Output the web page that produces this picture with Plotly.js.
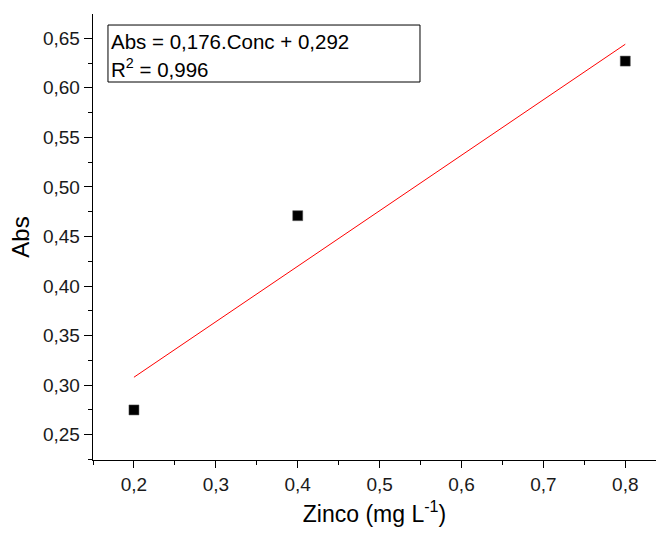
<!DOCTYPE html>
<html>
<head>
<meta charset="utf-8">
<script src="https://cdn.plot.ly/plotly-3.0.1.min.js"></script>
<style>html,body{margin:0;padding:0;background:#fff;}#chart{width:656px;height:533px;}</style>
</head>
<body>
<div id="chart"></div>
<script>
// Data
const concX = [0.2, 0.4, 0.8];
const absY = [0.275, 0.471, 0.627];
const fitX = [0.2, 0.8];
const fitY = [0.308, 0.644];
const xTickVals = [0.2, 0.3, 0.4, 0.5, 0.6, 0.7, 0.8];
const yTickVals = [0.25, 0.30, 0.35, 0.40, 0.45, 0.50, 0.55, 0.60, 0.65];
const eqLine1 = "Abs = 0,176.Conc + 0,292";
const eqLine2 = "R<sup>2</sup> = 0,996";

const FONT = '"Liberation Sans", Arial, sans-serif';

const traces = [
  {
    x: fitX, y: fitY, type: 'scatter', mode: 'lines',
    line: {color: '#ff0000', width: 1}, hoverinfo: 'skip', showlegend: false
  },
  {
    x: concX, y: absY, type: 'scatter', mode: 'markers',
    marker: {symbol: 'square', size: 10, color: '#000', line: {color: '#555', width: 0.5}},
    showlegend: false
  }
];

const layout = {
  width: 656, height: 533,
  margin: {l: 93, r: 0, t: 14, b: 73, pad: 0},
  paper_bgcolor: '#fff', plot_bgcolor: '#fff',
  separators: ', ',
  font: {family: FONT, color: '#1a1a1a'},
  showlegend: false,
  xaxis: {
    range: [0.15, 0.8375], autorange: false,
    tickvals: xTickVals, tickformat: '.1f',
    ticks: 'outside', ticklen: 7, tickwidth: 1, tickcolor: '#000',
    minor: {dtick: 0.05, tick0: 0.15, ticks: 'outside', ticklen: 4, tickcolor: '#000', tickwidth: 1, showgrid: false},
    showline: true, linecolor: '#000', linewidth: 1.3, mirror: false,
    showgrid: false, zeroline: false,
    tickfont: {size: 19, family: FONT, color: '#1a1a1a'},
    title: {text: 'Zinco (mg L<sup>-1</sup>)', font: {size: 23, family: FONT, color: '#000'}, standoff: 11}
  },
  yaxis: {
    range: [0.2245, 0.6745], autorange: false,
    tickvals: yTickVals, tickformat: '.2f',
    ticks: 'outside', ticklen: 8, tickwidth: 1, tickcolor: '#000',
    minor: {dtick: 0.025, tick0: 0.225, ticks: 'outside', ticklen: 4, tickcolor: '#000', tickwidth: 1, showgrid: false},
    showline: true, linecolor: '#000', linewidth: 1.3, mirror: false,
    showgrid: false, zeroline: false,
    tickfont: {size: 19, family: FONT, color: '#1a1a1a'},
    title: {text: 'Abs', font: {size: 24, family: FONT, color: '#000'}, standoff: 6}
  },
  shapes: [
    {type: 'rect', xref: 'paper', yref: 'paper', x0: 0.0266, x1: 0.5808, y0: 0.8475, y1: 0.9753,
     line: {color: '#000', width: 1}, fillcolor: 'rgba(0,0,0,0)'}
  ],
  annotations: [
    {xref: 'paper', yref: 'paper', x: 0.0284, y: 0.939, xanchor: 'left', yanchor: 'middle',
     text: eqLine1, showarrow: false, font: {size: 20.5, family: FONT, color: '#000'}},
    {xref: 'paper', yref: 'paper', x: 0.0284, y: 0.879, xanchor: 'left', yanchor: 'middle',
     text: eqLine2, showarrow: false, font: {size: 20.5, family: FONT, color: '#000'}}
  ]
};

Plotly.newPlot('chart', traces, layout, {displayModeBar: false, staticPlot: true});
</script>
</body>
</html>
